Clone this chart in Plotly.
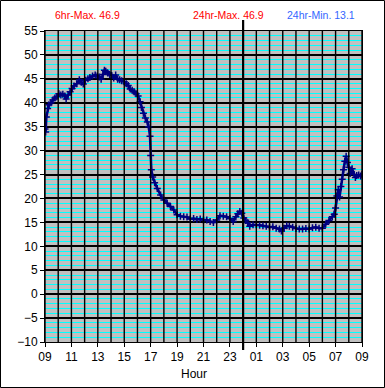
import plotly.graph_objects as go

hours = [9.0, 9.05, 9.1, 9.2, 9.3, 9.45, 9.6, 9.75, 9.9, 10.05,
         10.2, 10.35, 10.5, 10.6, 10.75, 10.9, 11.05, 11.2, 11.4, 11.6,
         11.75, 11.9, 12.05, 12.25, 12.4, 12.6, 12.8, 12.95, 13.1, 13.25,
         13.4, 13.5, 13.6, 13.75, 13.9, 14.05, 14.2, 14.35, 14.5, 14.65,
         14.8, 15.0, 15.15, 15.3, 15.45, 15.6, 15.75, 15.9, 16.05, 16.2,
         16.3, 16.45, 16.6, 16.75, 16.85, 16.95, 17.0, 17.05, 17.15, 17.3,
         17.5, 17.75, 18.0, 18.25, 18.5, 18.75, 19.0, 19.25, 19.5, 19.75,
         20.0, 20.25, 20.5, 20.75, 21.0, 21.25, 21.5, 21.75, 22.0, 22.25,
         22.5, 22.75, 23.0, 23.25, 23.45, 23.6, 23.75, 23.9, 24.05, 24.2,
         24.35, 24.5, 24.75, 25.0, 25.25, 25.5, 25.75, 26.0, 26.25, 26.5,
         26.75, 26.9, 27.1, 27.3, 27.5, 27.75, 28.0, 28.25, 28.5, 28.75,
         29.0, 29.25, 29.5, 29.75, 30.0, 30.25, 30.5, 30.75, 30.9, 31.0,
         31.1, 31.2, 31.3, 31.4, 31.5, 31.6, 31.7, 31.8, 31.9, 32.0,
         32.1, 32.25, 32.4, 32.5, 32.6, 32.75, 32.9, 33.0]

temps = [34.5, 33.9, 37.0, 38.8, 39.6, 40.0, 40.6, 41.0, 41.3, 41.9,
         41.6, 41.8, 41.4, 40.8, 41.6, 42.3, 43.0, 43.5, 44.0, 44.8,
         44.3, 43.9, 44.7, 45.0, 45.3, 45.6, 45.8, 45.6, 45.4, 44.9,
         45.9, 46.8, 46.6, 46.2, 45.9, 45.7, 45.2, 45.8, 44.9, 44.8,
         44.6, 44.4, 44.0, 43.6, 42.9, 42.6, 42.3, 41.9, 41.4, 40.2,
         39.0, 37.8, 36.8, 36.0, 35.0, 33.0, 29.0, 26.0, 24.5, 23.3,
         22.1, 20.7, 19.7, 19.0, 18.3, 17.6, 16.6, 16.3, 16.2, 16.1,
         15.7, 15.8, 15.6, 15.7, 15.5, 15.5, 15.2, 15.0, 15.5, 16.4,
         16.3, 16.2, 15.8, 15.2, 16.2, 16.8, 17.3, 16.9, 15.9, 15.4,
         14.9, 14.2, 14.5, 14.5, 14.4, 14.3, 14.2, 14.0, 14.1, 13.8,
         13.6, 13.2, 13.8, 14.3, 14.2, 14.0, 13.7, 13.6, 13.6, 13.7,
         13.6, 13.9, 14.0, 13.8, 13.8, 14.6, 15.4, 16.2, 16.7, 18.0,
         20.5, 21.8, 20.3, 22.5, 24.0, 26.0, 27.8, 28.8, 27.5, 26.5,
         25.2, 26.2, 25.0, 24.4, 24.8, 24.9, 24.7, 25.0]

assert len(hours) == len(temps)

tick_hours = [9, 11, 13, 15, 17, 19, 21, 23, 25, 27, 29, 31, 33]
tick_labels = ["09", "11", "13", "15", "17", "19", "21", "23", "01", "03", "05", "07", "09"]
y_ticks = list(range(-10, 56, 5))
grid_hours = list(range(9, 34))

x_min, x_max = 9, 33
y_min, y_max = -10, 55
midnight = 24

stats = [("6hr-Max. 46.9", "#FF0000", 0.134),
         ("24hr-Max. 46.9", "#FF0000", 0.579),
         ("24hr-Min. 13.1", "#3366FF", 0.872)]

fig = go.Figure()
fig.add_trace(go.Scatter(
    x=hours, y=temps, mode="lines+markers",
    line=dict(color="#000080", width=2.5),
    marker=dict(symbol="cross-thin", size=5, color="#000080",
                line=dict(color="#000080", width=1.5)),
    showlegend=False, hoverinfo="skip"))

L, R, T, B = 45, 23, 31, 46
W, H = 385, 388
pw, ph = W - L - R, H - T - B

fig.update_layout(
    width=W, height=H,
    margin=dict(l=L, r=R, t=T, b=B, pad=0),
    paper_bgcolor="white", plot_bgcolor="#C0C0C0",
    font=dict(family="Liberation Sans, Arial, sans-serif", size=12, color="black"),
    xaxis=dict(range=[x_min, x_max], tickvals=tick_hours, ticktext=tick_labels,
               showgrid=False,
               ticks="outside", ticklen=4, tickcolor="black",
               showline=True, linecolor="black", linewidth=1, mirror=True,
               zeroline=False),
    yaxis=dict(range=[y_min, y_max], tickvals=y_ticks,
               showgrid=True, gridcolor="black", gridwidth=1.5,
               minor=dict(dtick=1, tick0=0, showgrid=True, gridcolor="#00FFFF", gridwidth=1),
               ticks="outside", ticklen=4, tickcolor="black",
               showline=True, linecolor="black", linewidth=1, mirror=True,
               zeroline=False),
)

# hourly vertical grid, drawn over the horizontal grid lines
for h in grid_hours:
    fig.add_shape(type="line", xref="x", yref="paper", x0=h, x1=h, y0=0, y1=1,
                  line=dict(color="black", width=1.4), layer="above")

# midnight marker line
mx = (midnight - x_min) / (x_max - x_min)
fig.add_shape(type="line", xref="paper", yref="paper",
              x0=mx, x1=mx, y0=-8 / ph, y1=1 + 11 / ph,
              line=dict(color="black", width=2.2), layer="above")

# outer border
fig.add_shape(type="rect", xref="paper", yref="paper",
              x0=(0.5 - L) / pw, x1=(W - 0.5 - L) / pw,
              y0=-(B - 0.5) / ph, y1=1 + (T - 0.5) / ph,
              line=dict(color="black", width=1), fillcolor="rgba(0,0,0,0)")

for text, color, xp in stats:
    fig.add_annotation(text=text, xref="paper", yref="paper",
                       x=xp, y=1 + 16 / ph, showarrow=False,
                       font=dict(size=10.5, color=color), xanchor="center", yanchor="middle")

# axis title
fig.add_annotation(text="Hour", xref="paper", yref="paper",
                   x=(194 - L) / pw, y=-32 / ph, showarrow=False,
                   font=dict(size=12, color="black"), xanchor="center", yanchor="middle")

fig.write_html("out.html", config={"displayModeBar": False},
               post_script="document.body.style.margin='0';document.body.style.overflow='hidden';")
